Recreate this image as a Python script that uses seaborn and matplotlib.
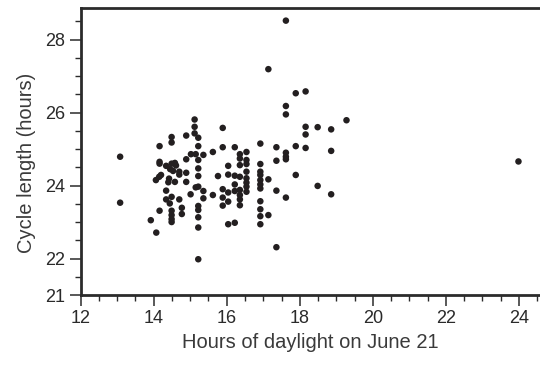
import matplotlib
matplotlib.use("Agg")
import matplotlib.pyplot as plt
from matplotlib.ticker import MultipleLocator, FixedLocator
import seaborn as sns
import pandas as pd

daylight = [13.08, 13.08, 13.92, 14.07,
            14.16, 14.16, 14.16, 14.06, 14.15, 14.20, 14.16,
            14.34, 14.34, 14.34, 14.42, 14.40, 14.45, 14.44,
            14.49, 14.49, 14.49, 14.58, 14.61, 14.53, 14.58, 14.49, 14.49, 14.49, 14.49, 14.49,
            14.70, 14.70, 14.70, 14.77, 14.77,
            14.89, 14.89, 14.89, 14.89,
            15.02, 15.01, 15.15, 15.15,
            15.12, 15.12, 15.12, 15.22, 15.22, 15.22, 15.22, 15.22, 15.22, 15.22, 15.22, 15.22, 15.22, 15.22,
            15.36, 15.36, 15.36,
            15.62, 15.62, 15.76,
            15.89, 15.89, 15.89, 15.89, 15.89,
            16.04, 16.04, 16.04, 16.04, 16.04,
            16.22, 16.22, 16.22, 16.22, 16.22,
            16.36, 16.36, 16.36, 16.36, 16.36, 16.36, 16.36, 16.36,
            16.54, 16.54, 16.54, 16.54, 16.54, 16.54, 16.54, 16.54,
            16.92, 16.92, 16.92, 16.92, 16.92, 16.92, 16.92, 16.92, 16.92, 16.92, 16.92,
            17.14, 17.14, 17.14,
            17.36, 17.36, 17.36, 17.36,
            17.62, 17.62, 17.62, 17.62, 17.62, 17.62, 17.62,
            17.89, 17.89, 17.89,
            18.16, 18.16, 18.16, 18.16,
            18.49, 18.49,
            18.86, 18.86, 18.86,
            19.28,
            23.99]

cycle = [24.79, 23.53, 23.05, 22.71,
         25.08, 24.65, 24.60, 24.15, 24.24, 24.29, 23.31,
         24.54, 23.86, 23.62, 24.19, 24.09, 24.45, 23.51,
         25.33, 25.18, 24.60, 24.62, 24.55, 24.40, 24.10, 23.69, 23.31, 23.19, 23.08, 23.00,
         24.38, 24.30, 23.62, 23.39, 23.22,
         25.37, 24.72, 24.35, 24.10,
         24.86, 23.76, 24.86, 23.95,
         25.81, 25.61, 25.43, 25.31, 25.08, 24.70, 24.47, 24.26, 23.97, 23.44, 23.33, 23.13, 22.85, 21.98,
         24.84, 23.85, 23.65,
         24.92, 23.74, 24.26,
         25.58, 25.05, 23.90, 23.67, 23.45,
         24.54, 24.30, 23.81, 23.56, 22.94,
         25.05, 24.27, 24.03, 23.85, 22.98,
         24.86, 24.74, 24.56, 24.24, 23.88, 23.74, 23.62, 23.46,
         24.92, 24.70, 24.59, 24.38, 24.20, 24.08, 23.97, 23.83,
         25.15, 24.59, 24.38, 24.29, 24.15, 24.03, 23.92, 23.57, 23.35, 23.16, 22.94,
         27.19, 24.17, 23.19,
         25.05, 24.68, 23.86, 22.31,
         28.52, 26.18, 25.95, 24.90, 24.79, 24.72, 23.67,
         26.53, 25.08, 24.29,
         26.58, 25.61, 25.40, 25.03,
         25.60, 23.99,
         25.54, 24.95, 23.76,
         25.79,
         24.66]

x_ticks = [12, 14, 16, 18, 20, 22, 24]
y_ticks = [21, 22, 24, 26, 28]

df = pd.DataFrame({"daylight": daylight, "cycle": cycle})

sns.set_style("white")
plt.rcParams["font.family"] = ["Liberation Sans", "DejaVu Sans"]

fig = plt.figure(figsize=(5.4, 3.68), dpi=100)
ax = fig.add_axes([80.7 / 540, 73 / 368, (540 - 80.7) / 540, (295 - 7.5) / 368])

sns.scatterplot(data=df, x="daylight", y="cycle", ax=ax, color="#231f20",
                s=22, edgecolor="none", linewidth=0)

ax.set_xlim(12, 24.58)
ax.set_ylim(21, 28.88)
ax.xaxis.set_major_locator(FixedLocator(x_ticks))
ax.yaxis.set_major_locator(FixedLocator(y_ticks))
ax.xaxis.set_minor_locator(MultipleLocator(0.5))
ax.yaxis.set_minor_locator(MultipleLocator(0.5))

spine_c = "#2b2b2b"
for side in ["left", "bottom", "top"]:
    ax.spines[side].set_color(spine_c)
    ax.spines[side].set_linewidth(2.0)
ax.spines["right"].set_visible(False)

ax.tick_params(which="major", direction="out", length=8, width=1.1, color=spine_c,
               labelsize=13, labelcolor="#2a2a2a", pad=3,
               bottom=True, left=True, top=False, right=False)
ax.tick_params(which="minor", direction="out", length=4, width=1.0, color=spine_c,
               bottom=True, left=True, top=False, right=False)

ax.set_xlabel("Hours of daylight on June 21", fontsize=14.5, color="#3a3a3a", labelpad=4)
ax.set_ylabel("Cycle length (hours)", fontsize=14.5, color="#3a3a3a", labelpad=6)
ax.yaxis.set_label_coords(-0.098, 0.46)

fig.savefig("out.png", dpi=100)
